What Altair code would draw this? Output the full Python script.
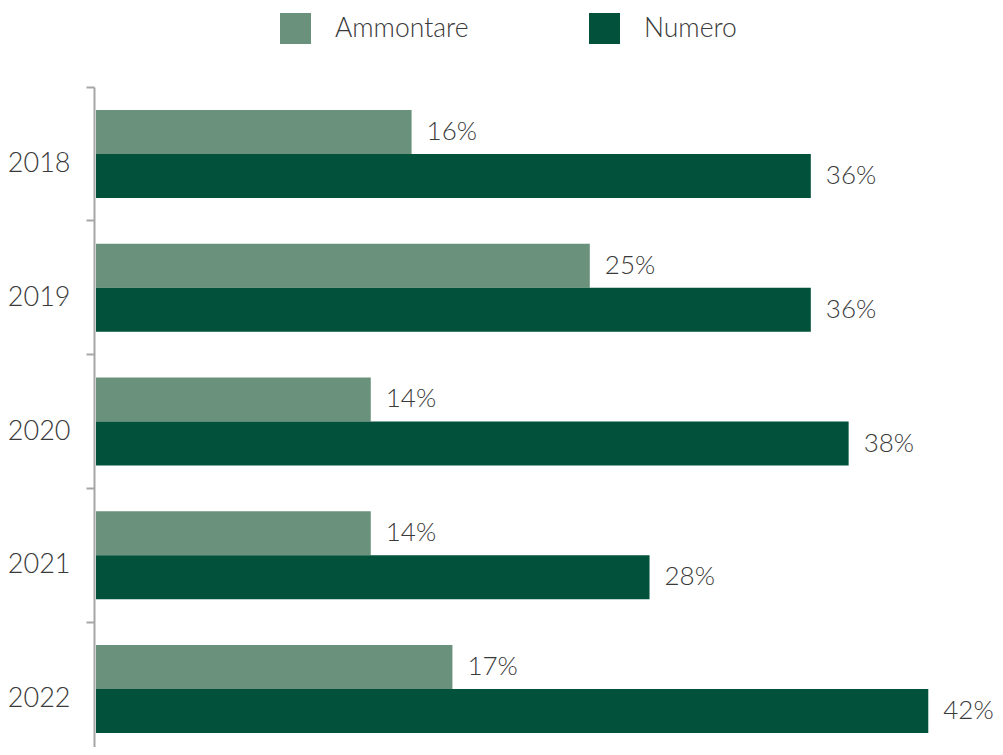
import altair as alt
import pandas as pd

years = ["2018", "2019", "2020", "2021", "2022"]
series = ["Ammontare", "Numero"]
ammontare = [15.85, 24.8, 13.8, 13.8, 17.9]
numero = [35.9, 35.9, 37.8, 27.8, 41.8]
ammontare_labels = ["16%", "25%", "14%", "14%", "17%"]
numero_labels = ["36%", "36%", "38%", "28%", "42%"]
colors = ["#6A917B", "#02513A"]

rows = []
for i, yr in enumerate(years):
    rows.append(dict(anno=yr, serie="Ammontare", valore=ammontare[i], etichetta=ammontare_labels[i]))
    rows.append(dict(anno=yr, serie="Numero", valore=numero[i], etichetta=numero_labels[i]))
df = pd.DataFrame(rows)

FONT = "Lato"
TXT = "#3a3a3a"
GRAY = "#A6A6A6"

y_enc = alt.Y(
    "anno:N",
    sort=years,
    scale=alt.Scale(paddingInner=0, paddingOuter=0, range=[0, 669]),
    axis=alt.Axis(
        title=None,
        bandPosition=0,
        labelOffset=10,
        offset=2,
        tickSize=8,
        tickWidth=2,
        tickColor=GRAY,
        domainColor=GRAY,
        domainWidth=2,
        labelPadding=16,
        labelFont=FONT,
        labelFontWeight=300,
        labelFontSize=27,
        labelColor=TXT,
        grid=False,
    ),
)
yoff = alt.YOffset("serie:N", sort=series, scale=alt.Scale(paddingInner=0, paddingOuter=0.52))
x_enc = alt.X("valore:Q", scale=alt.Scale(domain=[0, 45], nice=False, zero=True), axis=None)

bars = alt.Chart(df).mark_bar().encode(
    y=y_enc,
    yOffset=yoff,
    x=x_enc,
    color=alt.Color(
        "serie:N",
        sort=series,
        scale=alt.Scale(domain=series, range=colors),
        legend=alt.Legend(
            orient="none",
            legendX=184,
            legendY=-74,
            direction="horizontal",
            title=None,
            symbolType="square",
            symbolSize=961,
            symbolStrokeWidth=0,
            symbolOpacity=1,
            labelFont=FONT,
            labelFontWeight=300,
            labelFontSize=26.5,
            labelColor=TXT,
            labelOffset=24,
            columnPadding=120,
            padding=0,
            offset=0,
        ),
    ),
)

labels = alt.Chart(df).mark_text(
    align="left", baseline="middle", dx=15, fontSize=26, font=FONT, fontWeight=300, color=TXT
).encode(
    y=y_enc,
    yOffset=yoff,
    x=x_enc,
    text="etichetta:N",
)

chart = (
    alt.layer(bars, labels)
    .properties(
        width=896,
        height=660,
        autosize=alt.AutoSizeParams(type="none"),
        padding={"left": 88, "top": 79, "right": 3, "bottom": 0},
    )
    .configure_view(stroke=None)
)

chart.save("out.html", embed_options={"renderer": "svg", "actions": False})
